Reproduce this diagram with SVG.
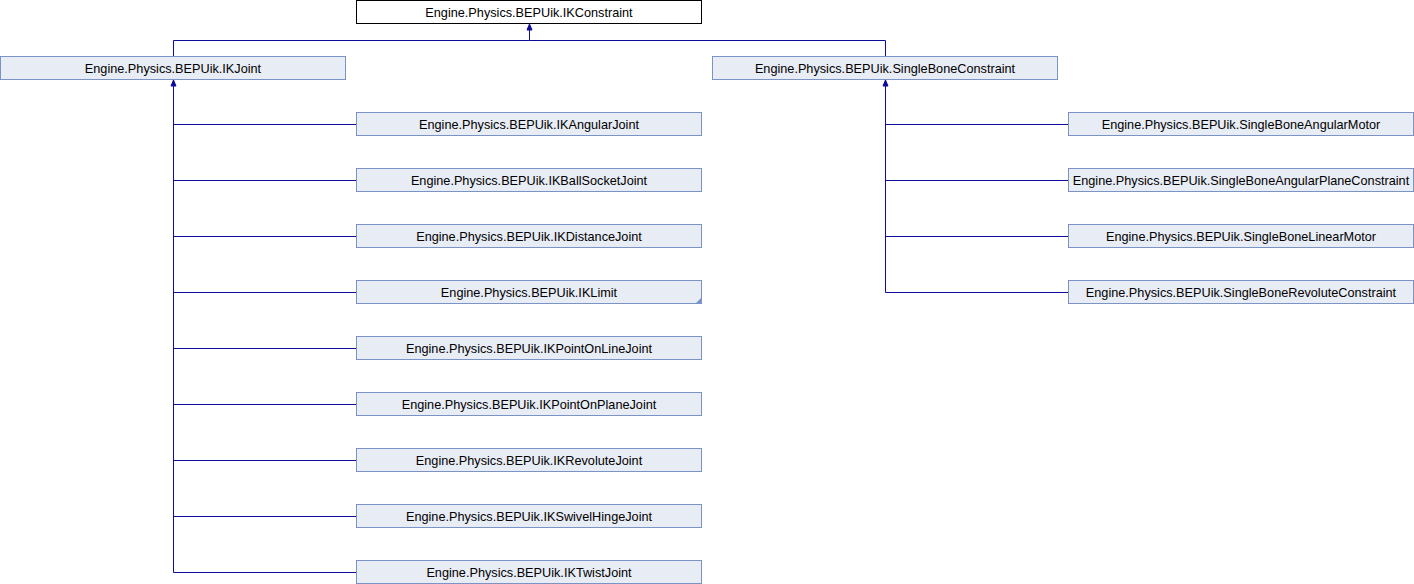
<svg xmlns="http://www.w3.org/2000/svg" width="1414" height="584" viewBox="0 0 1414 584">
<style>
.n rect{fill:#e8ecf4;stroke:#7b94c8;stroke-width:1}
.top rect{fill:#ffffff;stroke:#000000;stroke-width:1}
text{font-family:"Liberation Sans",Arial,sans-serif;font-size:12.7px;fill:#000;text-anchor:middle}
.e{fill:none;stroke:#0c0c9a;stroke-width:1}
.a{fill:#0c0c9a;stroke:#0c0c9a;stroke-width:1}
</style>
<rect width="1414" height="584" fill="#ffffff"/>
<g id="connectors">
<path class="e" d="M529.5,30 V40.5 H173.5 V56"/>
<path class="e" d="M529.5,40.5 H885.5 V56"/>
<polygon class="a" points="529.5,24 527,30 532,30"/>
<path class="e" d="M173.5,86 V572.5 H356"/>
<path class="e" d="M173.5,124.5 H356 M173.5,180.5 H356 M173.5,236.5 H356 M173.5,292.5 H356 M173.5,348.5 H356 M173.5,404.5 H356 M173.5,460.5 H356 M173.5,516.5 H356"/>
<polygon class="a" points="173.5,80 171,86 176,86"/>
<path class="e" d="M885.5,86 V292.5 H1068"/>
<path class="e" d="M885.5,124.5 H1068 M885.5,180.5 H1068 M885.5,236.5 H1068"/>
<polygon class="a" points="885.5,80 883,86 888,86"/>
</g>
<g id="IKConstraint" class="top"><rect x="356.5" y="0.5" width="345" height="23"/><text x="529" y="16.5">Engine.Physics.BEPUik.IKConstraint</text></g>
<g id="IKJoint" class="n"><rect x="0.5" y="56.5" width="345" height="23"/><text x="173" y="72.5">Engine.Physics.BEPUik.IKJoint</text></g>
<g id="SingleBoneConstraint" class="n"><rect x="712.5" y="56.5" width="345" height="23"/><text x="885" y="72.5">Engine.Physics.BEPUik.SingleBoneConstraint</text></g>
<g id="IKAngularJoint" class="n"><rect x="356.5" y="112.5" width="345" height="23"/><text x="529" y="128.5">Engine.Physics.BEPUik.IKAngularJoint</text></g>
<g id="IKBallSocketJoint" class="n"><rect x="356.5" y="168.5" width="345" height="23"/><text x="529" y="184.5">Engine.Physics.BEPUik.IKBallSocketJoint</text></g>
<g id="IKDistanceJoint" class="n"><rect x="356.5" y="224.5" width="345" height="23"/><text x="529" y="240.5">Engine.Physics.BEPUik.IKDistanceJoint</text></g>
<g id="IKLimit" class="n"><rect x="356.5" y="280.5" width="345" height="23"/><polygon points="701.5,297.5 701.5,303.5 695.5,303.5" fill="#7b94c8"/><text x="529" y="296.5">Engine.Physics.BEPUik.IKLimit</text></g>
<g id="IKPointOnLineJoint" class="n"><rect x="356.5" y="336.5" width="345" height="23"/><text x="529" y="352.5">Engine.Physics.BEPUik.IKPointOnLineJoint</text></g>
<g id="IKPointOnPlaneJoint" class="n"><rect x="356.5" y="392.5" width="345" height="23"/><text x="529" y="408.5">Engine.Physics.BEPUik.IKPointOnPlaneJoint</text></g>
<g id="IKRevoluteJoint" class="n"><rect x="356.5" y="448.5" width="345" height="23"/><text x="529" y="464.5">Engine.Physics.BEPUik.IKRevoluteJoint</text></g>
<g id="IKSwivelHingeJoint" class="n"><rect x="356.5" y="504.5" width="345" height="23"/><text x="529" y="520.5">Engine.Physics.BEPUik.IKSwivelHingeJoint</text></g>
<g id="IKTwistJoint" class="n"><rect x="356.5" y="560.5" width="345" height="23"/><text x="529" y="576.5">Engine.Physics.BEPUik.IKTwistJoint</text></g>
<g id="SingleBoneAngularMotor" class="n"><rect x="1068.5" y="112.5" width="345" height="23"/><text x="1241" y="128.5">Engine.Physics.BEPUik.SingleBoneAngularMotor</text></g>
<g id="SingleBoneAngularPlaneConstraint" class="n"><rect x="1068.5" y="168.5" width="345" height="23"/><text x="1241" y="184.5">Engine.Physics.BEPUik.SingleBoneAngularPlaneConstraint</text></g>
<g id="SingleBoneLinearMotor" class="n"><rect x="1068.5" y="224.5" width="345" height="23"/><text x="1241" y="240.5">Engine.Physics.BEPUik.SingleBoneLinearMotor</text></g>
<g id="SingleBoneRevoluteConstraint" class="n"><rect x="1068.5" y="280.5" width="345" height="23"/><text x="1241" y="296.5">Engine.Physics.BEPUik.SingleBoneRevoluteConstraint</text></g>
</svg>
